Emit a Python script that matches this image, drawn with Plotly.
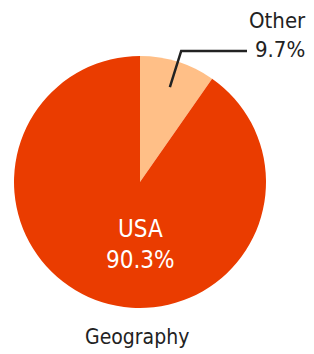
import math
import plotly.graph_objects as go

labels = ["Other", "USA"]
values = [9.7, 90.3]
colors = ["#FFBF87", "#EA3C00"]
title = "Geography"

W, H = 314, 354
FONT = "DejaVu Sans Condensed, Liberation Sans Narrow, sans-serif"

# pie placement in pixels
cx, cy, R = 140, 182, 126
dom_x = [(cx - R) / W, (cx + R) / W]
dom_y = [(H - cy - R) / H, (H - cy + R) / H]

fig = go.Figure(go.Pie(
    labels=labels, values=values, sort=False, direction="clockwise", rotation=0,
    marker=dict(colors=colors, line=dict(width=0)),
    textinfo="none", hoverinfo="label+percent",
    domain=dict(x=dom_x, y=dom_y), showlegend=False,
))

total = sum(values)
def px2paper(x, y):
    return x / W, (H - y) / H

# leader line for Other slice, computed from slice mid-angle
mid = math.radians(values[0] / total * 360 / 2)
p0 = (cx + 0.79 * R * math.sin(mid), cy - 0.79 * R * math.cos(mid))
p1 = (cx + 1.09 * R * math.sin(mid), cy - 1.09 * R * math.cos(mid))
p2 = (247, p1[1])
pts = [px2paper(*p) for p in (p0, p1, p2)]
path = "M {} {} L {} {} L {} {}".format(pts[0][0], pts[0][1], pts[1][0], pts[1][1], pts[2][0], pts[2][1])
fig.add_shape(type="path", path=path, xref="paper", yref="paper",
              line=dict(color="#222222", width=2.5))

ax, ay = px2paper(308, 35)
fig.add_annotation(x=ax, y=ay, xref="paper", yref="paper", xanchor="right", yanchor="middle",
                   text=f"{labels[0]}<br>{values[0]}%", showarrow=False, align="right",
                   font=dict(family=FONT, size=22, color="#222222"))

ux, uy = px2paper(140, 244)
fig.add_annotation(x=ux, y=uy, xref="paper", yref="paper", xanchor="center", yanchor="middle",
                   text=f"{labels[1]}<br>{values[1]}%", showarrow=False, align="center",
                   font=dict(family=FONT, size=24, color="#FFFFFF"))

tx, ty = px2paper(137, 337)
fig.add_annotation(x=tx, y=ty, xref="paper", yref="paper", xanchor="center", yanchor="middle",
                   text=title, showarrow=False,
                   font=dict(family=FONT, size=21, color="#222222"))

fig.update_layout(width=W, height=H, margin=dict(l=0, r=0, t=0, b=0),
                  paper_bgcolor="white", plot_bgcolor="white")
fig.write_html("out.html", config={"displayModeBar": False},
               post_script="document.body.style.margin='0';document.body.style.padding='0';")
